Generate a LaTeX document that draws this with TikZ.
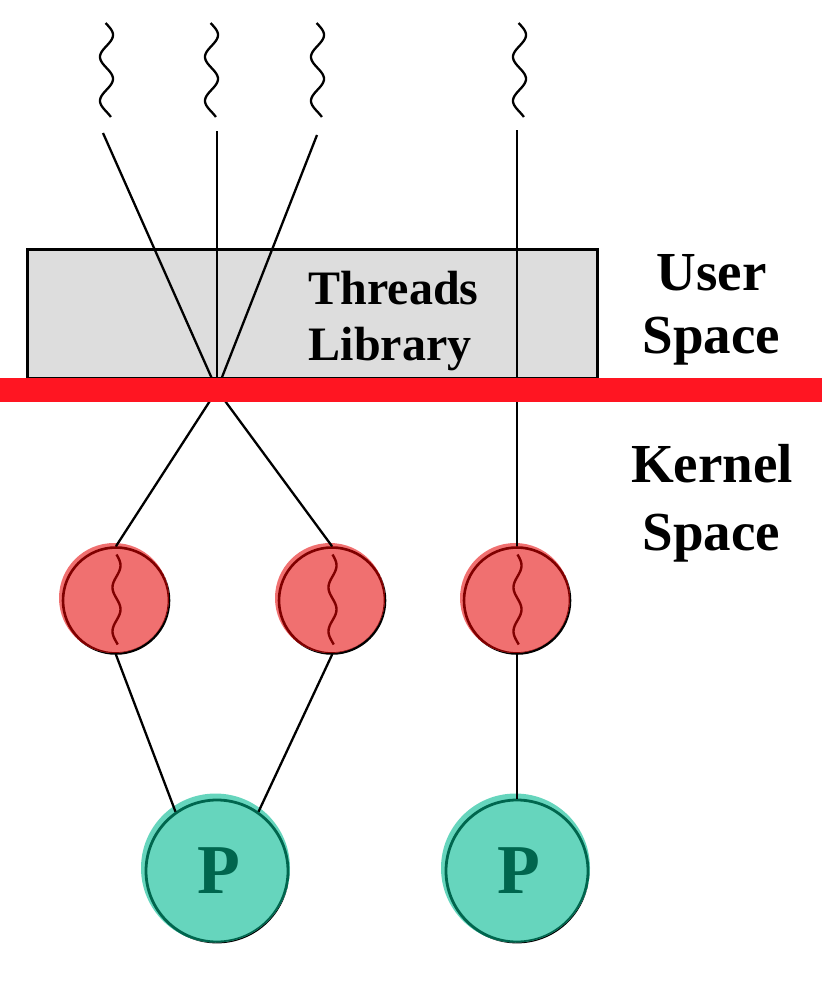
\documentclass[tikz,border=0pt]{standalone}
\usepackage{fontspec}
\setmainfont{Liberation Serif}
\definecolor{boxgray}{HTML}{DDDDDD}
\definecolor{barred}{HTML}{FF1522}
\definecolor{kfill}{HTML}{F07070}
\definecolor{kline}{HTML}{800000}
\definecolor{pfill}{HTML}{66D5BD}
\definecolor{pline}{HTML}{00664E}
\newcommand{\kthreadnode}[3]{%
  \node[kout] (#1) at (#2,#3) {};
  \fill[kfill] ([shift={(-2,-2.5)}]#1.center) circle[radius=55];
  \begin{scope}
    \clip ([shift={(-2,-2.5)}]#1.center) circle[radius=55];
    \draw[kline, line width=2.6pt] (#1.center) circle[radius=53];
  \end{scope}
  \draw[kline, line width=2.4pt] plot[domain=-46:44, samples=60, variable=\t]
    ({#2+0.5+4*sin((\t+46)*8.2)}, {#3+\t});
}
\newcommand{\procnode}[3]{%
  \node[pout] (#1) at (#2,#3) {};
  \fill[pfill] ([shift={(-1.5,-3)}]#1.center) circle[radius=74.5];
  \begin{scope}
    \clip ([shift={(-1.5,-3)}]#1.center) circle[radius=74.5];
    \draw[pline, line width=2.8pt] (#1.center) circle[radius=71];
  \end{scope}
}
\newcommand{\squig}[1]{%
  \draw[squigline] plot[domain=23:117, samples=70, variable=\t]
    ({#1+6.5*sin((\t-24)*8.2)}, \t);
}
\begin{document}
\begin{tikzpicture}[x=1pt,y=-1pt,
  conn/.style={line width=2.3pt, black},
  squigline/.style={line width=2.3pt, black},
  kout/.style={circle, draw=black, line width=2.6pt, minimum size=106pt, inner sep=0pt},
  pout/.style={circle, draw=black, line width=2.8pt, minimum size=142pt, inner sep=0pt},
  sidelabel/.style={font=\fontsize{55}{63}\selectfont\bfseries, anchor=base, inner sep=0pt},
  liblabel/.style={font=\fontsize{48}{56}\selectfont\bfseries, anchor=base, inner sep=0pt},
  plabel/.style={font=\fontsize{70}{80}\selectfont\bfseries, text=pline, anchor=base, inner sep=0pt}]
\useasboundingbox (0,0) rectangle (822,982);

% library box
\node[draw=black, line width=3pt, fill=boxgray, inner sep=0pt, minimum width=570pt, minimum height=129pt] (lib) at (312,313.5) {};
\node[liblabel] (t1) at (393.5,304) {Threads};
\node[liblabel] (t2) at (390,360) {Library};

% user threads (squiggles)
\squig{106.5}
\squig{211.5}
\squig{317.5}
\squig{519.5}

\coordinate (u1) at (103,133);
\coordinate (u2) at (217,131);
\coordinate (u3) at (317,135);
\coordinate (u4) at (517,130);
\coordinate (hub) at (217,390);

% kernel threads
\kthreadnode{k1}{116}{600.5}
\kthreadnode{k2}{332}{600.5}
\kthreadnode{k3}{517}{600.5}

% processors
\procnode{p1}{217}{871}
\procnode{p2}{517}{871}
\node[plabel] (pl1) at (218.5,893) {P};
\node[plabel] (pl2) at (518.5,893) {P};

% connectors
\draw[conn] (u1) -- (hub);
\draw[conn] (u2) -- (hub);
\draw[conn] (u3) -- (hub);
\draw[conn] (hub) -- (k1.north);
\draw[conn] (hub) -- (k2.north);
\draw[conn] (u4) -- (k3.north);
\draw[conn] (k1.south) -- (p1.125);
\draw[conn] (k2.south) -- (p1.55);
\draw[conn] (k3.south) -- (p2.north);

% user/kernel boundary
\fill[barred] (0,378) rectangle (822,402);

\node[sidelabel] (us1) at (711.5,290) {User};
\node[sidelabel] (us2) at (711.5,353) {Space};
\node[sidelabel] (ks1) at (712,482) {Kernel};
\node[sidelabel] (ks2) at (711.5,550) {Space};
\end{tikzpicture}
\end{document}
